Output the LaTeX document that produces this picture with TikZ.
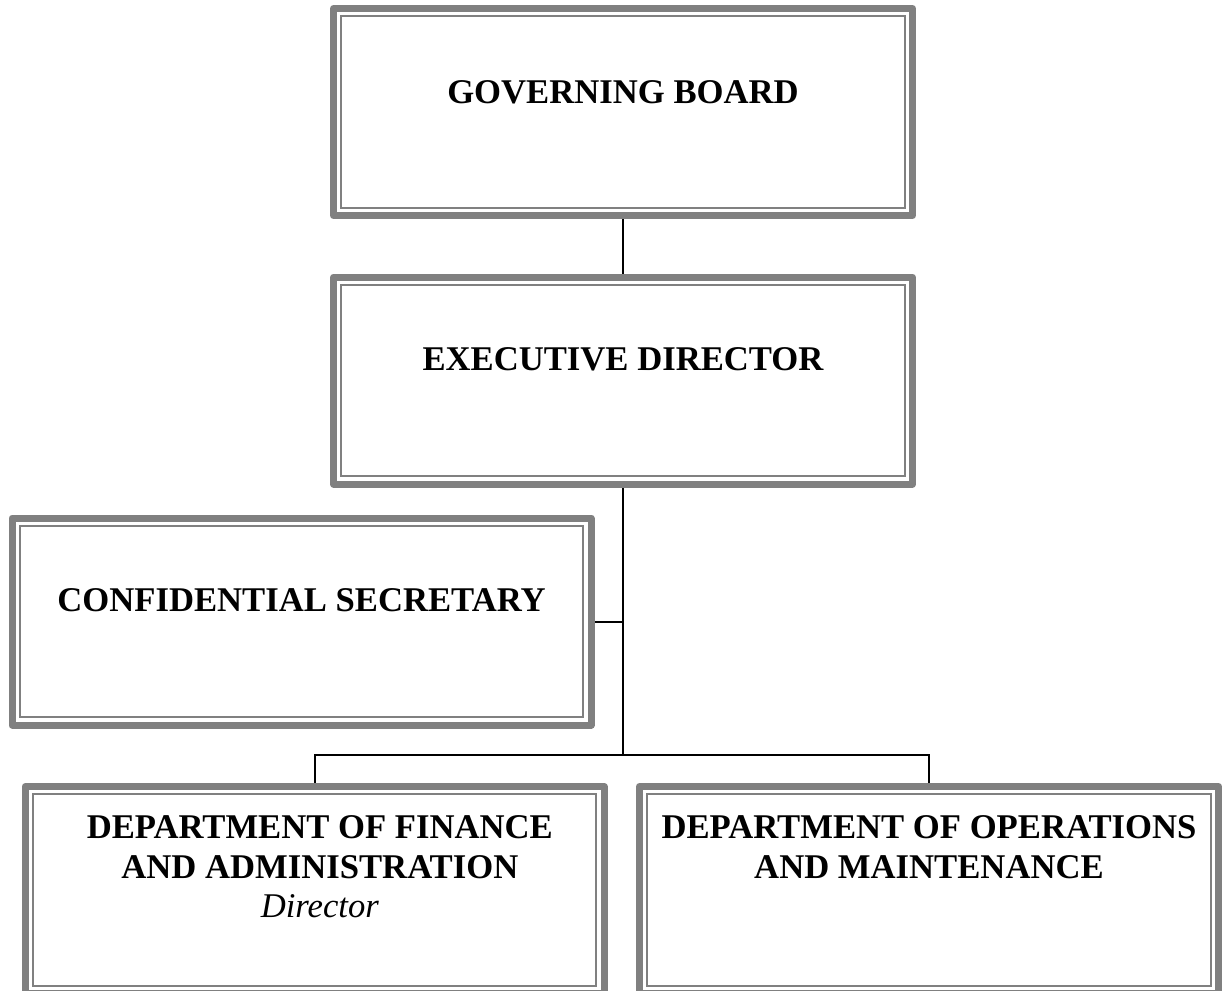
\documentclass[tikz,border=0pt]{standalone}
\usepackage{fontspec}
\setmainfont{Liberation Serif}
\usetikzlibrary{positioning,backgrounds}
\tikzset{
  unit/.style={draw=gray, fill=white, line width=5.25pt, line join=round,
    minimum width=434.25pt, minimum height=155.25pt, inner sep=0pt},
  rim/.style={draw=gray, line width=1.5pt},
  title/.style={font=\fontsize{26}{29.5}\selectfont\bfseries, align=center, inner sep=0pt},
  link/.style={line width=1.5pt}
}

\begin{document}
\begin{tikzpicture}[x=0.75pt, y=-0.75pt]
	\useasboundingbox (0,0) rectangle (1222,990);
	\node[unit] (gb) at (623,112) {};
	\node[unit] (ed) at (623,380.5) {};
	\node[unit] (cs) at (301.5,621.5) {};
	\node[unit] (fa) at (314.5,890) {};
	\node[unit] (om) at (929,890) {};
	\foreach \b in {gb,ed,cs,fa,om}
		\draw[rim] ([xshift=8.4pt,yshift=-8.4pt]\b.north west) rectangle
		([xshift=-8.4pt,yshift=8.4pt]\b.south east);
	\node[title, below=56.5pt of gb.north] (gbtext) {GOVERNING BOARD};
	\node[title, below=55.5pt of ed.north] (edtext) {EXECUTIVE DIRECTOR};
	\node[title, below=55.5pt of cs.north] (cstext) {CONFIDENTIAL SECRETARY};
	\node[title, below=24.5pt of fa.north, xshift=4pt] (fatext) {DEPARTMENT OF FINANCE\\
		AND ADMINISTRATION\\{\mdseries\itshape Director}};
	\node[title, below=24.5pt of om.north] (omtext) {DEPARTMENT OF OPERATIONS\\
		AND MAINTENANCE};
	\coordinate (split) at (623,755);
	\begin{scope}[on background layer]
		\draw[link] (gb.south) -- (ed.north);
		\draw[link] (ed.south) -- (split);
		\draw[link] (cs.east) -- (cs.east -| split);
		\draw[link] (fa.north) |- (split) -| (om.north);
	\end{scope}
\end{tikzpicture}
\end{document}
